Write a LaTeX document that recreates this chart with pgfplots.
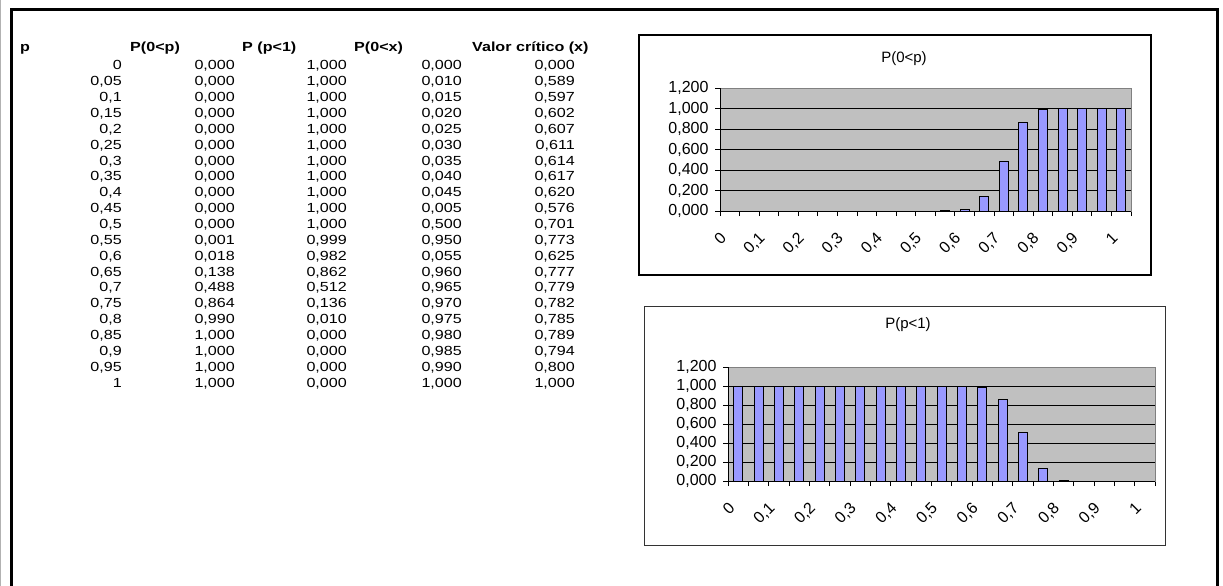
\documentclass[border=0pt]{standalone}
\usepackage{pgfplots}
\pgfplotsset{compat=1.18}
\usepackage{pgfplotstable}
\usepackage{fontspec}
\setmainfont{Liberation Sans}
\newfontfamily\tablefont[FakeStretch=1.22]{Liberation Sans}
\definecolor{barfill}{HTML}{9999FF}
\definecolor{plotbg}{HTML}{C0C0C0}
\definecolor{plotborder}{HTML}{808080}

\pgfplotstableread{
idx p a b c v
0 0 0.000 1.000 0.000 0.000
1 0.05 0.000 1.000 0.010 0.589
2 0.1 0.000 1.000 0.015 0.597
3 0.15 0.000 1.000 0.020 0.602
4 0.2 0.000 1.000 0.025 0.607
5 0.25 0.000 1.000 0.030 0.611
6 0.3 0.000 1.000 0.035 0.614
7 0.35 0.000 1.000 0.040 0.617
8 0.4 0.000 1.000 0.045 0.620
9 0.45 0.000 1.000 0.005 0.576
10 0.5 0.000 1.000 0.500 0.701
11 0.55 0.001 0.999 0.950 0.773
12 0.6 0.018 0.982 0.055 0.625
13 0.65 0.138 0.862 0.960 0.777
14 0.7 0.488 0.512 0.965 0.779
15 0.75 0.864 0.136 0.970 0.782
16 0.8 0.990 0.010 0.975 0.785
17 0.85 1.000 0.000 0.980 0.789
18 0.9 1.000 0.000 0.985 0.794
19 0.95 1.000 0.000 0.990 0.800
20 1 1.000 0.000 1.000 1.000
}\datatable

\newcommand\trow[6]{%
  \node[anchor=base east] at (122pt,{-(70+15.85*#1)*1pt}) {#2};
  \node[anchor=base east] at (235pt,{-(70+15.85*#1)*1pt}) {#3};
  \node[anchor=base east] at (347pt,{-(70+15.85*#1)*1pt}) {#4};
  \node[anchor=base east] at (462pt,{-(70+15.85*#1)*1pt}) {#5};
  \node[anchor=base east] at (575pt,{-(70+15.85*#1)*1pt}) {#6};
}

\pgfplotsset{
  excelchart/.style={
    scale only axis,
    xmin=-0.5, xmax=20.5, ymin=0, ymax=1.2,
    axis background/.style={fill=plotbg},
    axis line style={draw=plotborder, line width=1pt},
    tick pos=left,
    tick align=outside,
    major tick length=5pt,
    minor tick length=5pt,
    tick style={black, line width=0.8pt},
    ytick={0,0.2,0.4,0.6,0.8,1,1.2},
    yticklabels={{0,000},{0,200},{0,400},{0,600},{0,800},{1,000},{1,200}},
    ymajorgrids,
    grid style={black, line width=0.8pt},
    xtick={0,2,4,6,8,10,12,14,16,18,20},
    xticklabels={0,{0,1},{0,2},{0,3},{0,4},{0,5},{0,6},{0,7},{0,8},{0,9},1},
    minor xtick={-0.5,0.5,...,20.5},
    major x tick style={draw=none},
    yticklabel style={font=\fontsize{16}{18}\selectfont, xshift=-3pt},
    xticklabel style={font=\fontsize{16}{18}\selectfont, xshift=-4pt, yshift=-17pt, rotate=45, anchor=east},
  },
  excelbar/.style={ybar, bar width=9pt, fill=barfill, draw=black, line width=0.8pt},
}

\begin{document}
\begin{tikzpicture}
\useasboundingbox (0pt,0pt) rectangle (1223pt,-586pt);
\fill[white] (0pt,0pt) rectangle (1223pt,-586pt);
% outer frame
\draw[gray!60, line width=1pt] (0.5pt,0pt) -- (0.5pt,-586pt);
\draw[black, line width=3pt] (11pt,-586pt) -- (11pt,-10pt) -- (1217pt,-10pt) -- (1217pt,-586pt);

% table
\begin{scope}[every node/.style={inner sep=0pt, font=\tablefont\fontsize{13.2}{15}\selectfont}]
\node[anchor=base west, font=\tablefont\fontsize{13.2}{15}\selectfont\bfseries] at (20pt,-51.5pt) {p};
\node[anchor=base west, font=\tablefont\fontsize{13.2}{15}\selectfont\bfseries] at (130pt,-51.5pt) {P(0<p)};
\node[anchor=base west, font=\tablefont\fontsize{13.2}{15}\selectfont\bfseries] at (242pt,-51.5pt) {P (p<1)};
\node[anchor=base west, font=\tablefont\fontsize{13.2}{15}\selectfont\bfseries] at (354pt,-51.5pt) {P(0<x)};
\node[anchor=base west, font=\tablefont\fontsize{13.2}{15}\selectfont\bfseries] at (472pt,-51.5pt) {Valor crítico (x)};
\trow{0}{0}{0,000}{1,000}{0,000}{0,000}
\trow{1}{0,05}{0,000}{1,000}{0,010}{0,589}
\trow{2}{0,1}{0,000}{1,000}{0,015}{0,597}
\trow{3}{0,15}{0,000}{1,000}{0,020}{0,602}
\trow{4}{0,2}{0,000}{1,000}{0,025}{0,607}
\trow{5}{0,25}{0,000}{1,000}{0,030}{0,611}
\trow{6}{0,3}{0,000}{1,000}{0,035}{0,614}
\trow{7}{0,35}{0,000}{1,000}{0,040}{0,617}
\trow{8}{0,4}{0,000}{1,000}{0,045}{0,620}
\trow{9}{0,45}{0,000}{1,000}{0,005}{0,576}
\trow{10}{0,5}{0,000}{1,000}{0,500}{0,701}
\trow{11}{0,55}{0,001}{0,999}{0,950}{0,773}
\trow{12}{0,6}{0,018}{0,982}{0,055}{0,625}
\trow{13}{0,65}{0,138}{0,862}{0,960}{0,777}
\trow{14}{0,7}{0,488}{0,512}{0,965}{0,779}
\trow{15}{0,75}{0,864}{0,136}{0,970}{0,782}
\trow{16}{0,8}{0,990}{0,010}{0,975}{0,785}
\trow{17}{0,85}{1,000}{0,000}{0,980}{0,789}
\trow{18}{0,9}{1,000}{0,000}{0,985}{0,794}
\trow{19}{0,95}{1,000}{0,000}{0,990}{0,800}
\trow{20}{1}{1,000}{0,000}{1,000}{1,000}
\end{scope}

% chart 1
\draw[black, line width=2pt] (639pt,-35pt) rectangle (1151pt,-275pt);
\node[font=\fontsize{15}{17}\selectfont] at (904pt,-59pt) {P(0<p)};
\begin{axis}[excelchart, at={(720pt,-211pt)}, anchor=south west, width=411pt, height=123pt]
\addplot[excelbar] table[x=idx, y=a] {\datatable};
\draw[black, line width=1pt] (axis cs:-0.5,0) -- (axis cs:20.5,0);
\draw[black, line width=1pt] (axis cs:-0.5,0) -- (axis cs:-0.5,1.2);
\end{axis}

% chart 2
\draw[black!80, line width=1pt] (644pt,-306pt) rectangle (1165pt,-545pt);
\node[font=\fontsize{15}{17}\selectfont] at (908pt,-325pt) {P(p<1)};
\begin{axis}[excelchart, at={(728pt,-481pt)}, anchor=south west, width=427pt, height=114pt]
\addplot[excelbar] table[x=idx, y=b] {\datatable};
\draw[black, line width=1pt] (axis cs:-0.5,0) -- (axis cs:20.5,0);
\draw[black, line width=1pt] (axis cs:-0.5,0) -- (axis cs:-0.5,1.2);
\end{axis}
\end{tikzpicture}
\end{document}
